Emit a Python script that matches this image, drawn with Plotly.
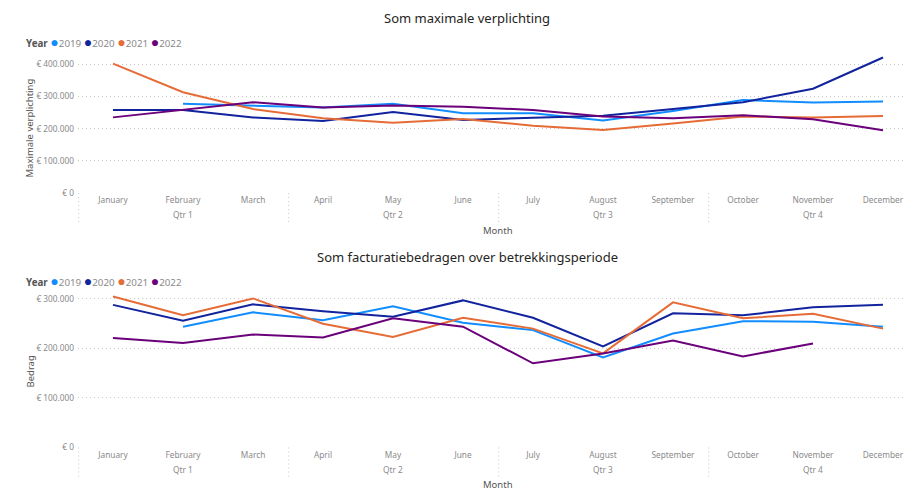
import plotly.graph_objects as go

months = ["January", "February", "March", "April", "May", "June", "July",
          "August", "September", "October", "November", "December"]
quarters = ["Qtr 1", "Qtr 2", "Qtr 3", "Qtr 4"]
years = ["2019", "2020", "2021", "2022"]
colors = ["#118DFF", "#12239E", "#E66C37", "#6B007B"]

max_2019 = [None, 277000, 272000, 266000, 277000, 248000, 248000, 225000, 255000, 289000, 281000, 284000]
max_2020 = [258000, 258000, 235000, 224000, 252000, 227000, 234000, 240000, 261000, 282000, 324000, 421000]
max_2021 = [402000, 313000, 261000, 232000, 218000, 230000, 209000, 196000, 216000, 238000, 235000, 239000]
max_2022 = [235000, 258000, 282000, 266000, 272000, 268000, 258000, 238000, 232000, 242000, 229000, 195000]

fact_2019 = [None, 244000, 273000, 257000, 285000, 252000, 237000, 182000, 230000, 255000, 254000, 244000]
fact_2020 = [288000, 256000, 289000, 275000, 264000, 297000, 262000, 204000, 271000, 267000, 283000, 288000]
fact_2021 = [305000, 267000, 301000, 250000, 223000, 262000, 240000, 190000, 293000, 261000, 270000, 240000]
fact_2022 = [221000, 211000, 228000, 222000, 261000, 244000, 170000, 190000, 216000, 184000, 210000, None]

ticks_top = [0, 100000, 200000, 300000, 400000]
ticks_bot = [0, 100000, 200000, 300000]

W, H = 904, 495        # reference picture size (positions below are in these pixels)
FIG_H = 502            # rendered height (the capture is fitted back to 495)
FONT = "Noto Sans"
GRID = "#C8C8C8"
LBL = "#8A8A8A"
DARK = "#252423"


def euro(v):
    return "€ " + f"{v:,}".replace(",", ".")


def py(px):
    return 1 - px / H


xs = list(range(len(months)))
fig = go.Figure()

for yr, col, ser in zip(years, colors, [max_2019, max_2020, max_2021, max_2022]):
    fig.add_trace(go.Scatter(x=xs, y=ser, mode="lines", name=yr, line=dict(color=col, width=2),
                             xaxis="x", yaxis="y", showlegend=False, connectgaps=False))
for yr, col, ser in zip(years, colors, [fact_2019, fact_2020, fact_2021, fact_2022]):
    fig.add_trace(go.Scatter(x=xs, y=ser, mode="lines", name=yr, line=dict(color=col, width=2),
                             xaxis="x2", yaxis="y2", showlegend=False, connectgaps=False))

xdom = [78 / W, 1]
xr = [-0.5, -0.5 + (W - 78) / 70]

common_x = dict(
    domain=xdom, range=xr, tickmode="array", tickvals=xs, ticktext=months,
    showgrid=False, zeroline=False, showline=False, ticks="",
    tickfont=dict(family=FONT, size=8.3, color=LBL), ticklabelstandoff=1, fixedrange=True,
)
common_y = dict(
    showgrid=True, gridcolor=GRID, griddash="1px,3px", gridwidth=1, zeroline=False,
    showline=False, ticks="", tickfont=dict(family=FONT, size=8.3, color=LBL),
    ticklabelstandoff=3, fixedrange=True,
)

top_px = 32.08
bot_px = 49.33
fig.update_layout(
    width=W, height=FIG_H, margin=dict(l=0, r=0, t=0, b=0),
    paper_bgcolor="white", plot_bgcolor="white", showlegend=False,
    xaxis=dict(**common_x, anchor="y"),
    yaxis=dict(**common_y, anchor="x", domain=[py(192.3), py(52)],
               range=[0, (192.3 - 52) / top_px * 100000],
               tickvals=ticks_top, ticktext=[euro(v) for v in ticks_top]),
    xaxis2=dict(**common_x, anchor="y2"),
    yaxis2=dict(**common_y, anchor="x2", domain=[py(445.7), py(290)],
                range=[0, (445.7 - 290) / bot_px * 100000],
                tickvals=ticks_bot, ticktext=[euro(v) for v in ticks_bot]),
)

shapes = []
annots = []
for xa, base in [("x", 192.3), ("x2", 445.7)]:
    for q in range(len(quarters) + 1):
        shapes.append(dict(type="line", xref=xa, yref="paper", x0=q * 3 - 0.49, x1=q * 3 - 0.49,
                           y0=py(base), y1=py(base + 30), line=dict(color=GRID, width=1, dash="1px,3px")))
    for i, q in enumerate(quarters):
        annots.append(dict(xref=xa, yref="paper", x=i * 3 + 1, y=py(base + 21.5), text=q,
                           showarrow=False, xanchor="center", yanchor="middle",
                           font=dict(family=FONT, size=8.3, color=LBL)))
    annots.append(dict(xref="paper", yref="paper", x=498 / W, y=py(base + 37), text="Month",
                       showarrow=False, xanchor="center", yanchor="middle",
                       font=dict(family=FONT, size=9.5, color="#555555")))

titles = [("Som maximale verplichting", 17.5, 41.5, "Maximale verplichting", 128),
          ("Som facturatiebedragen over betrekkingsperiode", 256, 279.5, "Bedrag", 370)]
for title, ty, ly, ytitle, yy in titles:
    annots.append(dict(xref="paper", yref="paper", x=467 / W, y=py(ty), text=title,
                       showarrow=False, xanchor="center", yanchor="middle",
                       font=dict(family=FONT, size=13, color=DARK)))
    leg = "<b>Year</b> " + " ".join(
        f"<span style='color:{c};font-size:14px'>●</span><span style='color:{LBL}'>{y}</span>"
        for y, c in zip(years, colors))
    annots.append(dict(xref="paper", yref="paper", x=24 / W, y=py(ly), text=leg,
                       showarrow=False, xanchor="left", yanchor="middle",
                       font=dict(family=FONT, size=9.8, color="#555555")))
    annots.append(dict(xref="paper", yref="paper", x=30 / W, y=py(yy), text=ytitle,
                       showarrow=False, xanchor="center", yanchor="middle", textangle=-90,
                       font=dict(family=FONT, size=9.5, color="#555555")))

fig.update_layout(shapes=shapes, annotations=annots)
css_fix = (
    "var s=document.documentElement.style;s.margin='0';s.padding='0';s.overflow='hidden';"
    "var b=document.body.style;b.margin='0';b.padding='0';b.overflow='hidden';"
)
fig.write_html("out.html", config={"displayModeBar": False, "staticPlot": True},
               post_script=css_fix)
